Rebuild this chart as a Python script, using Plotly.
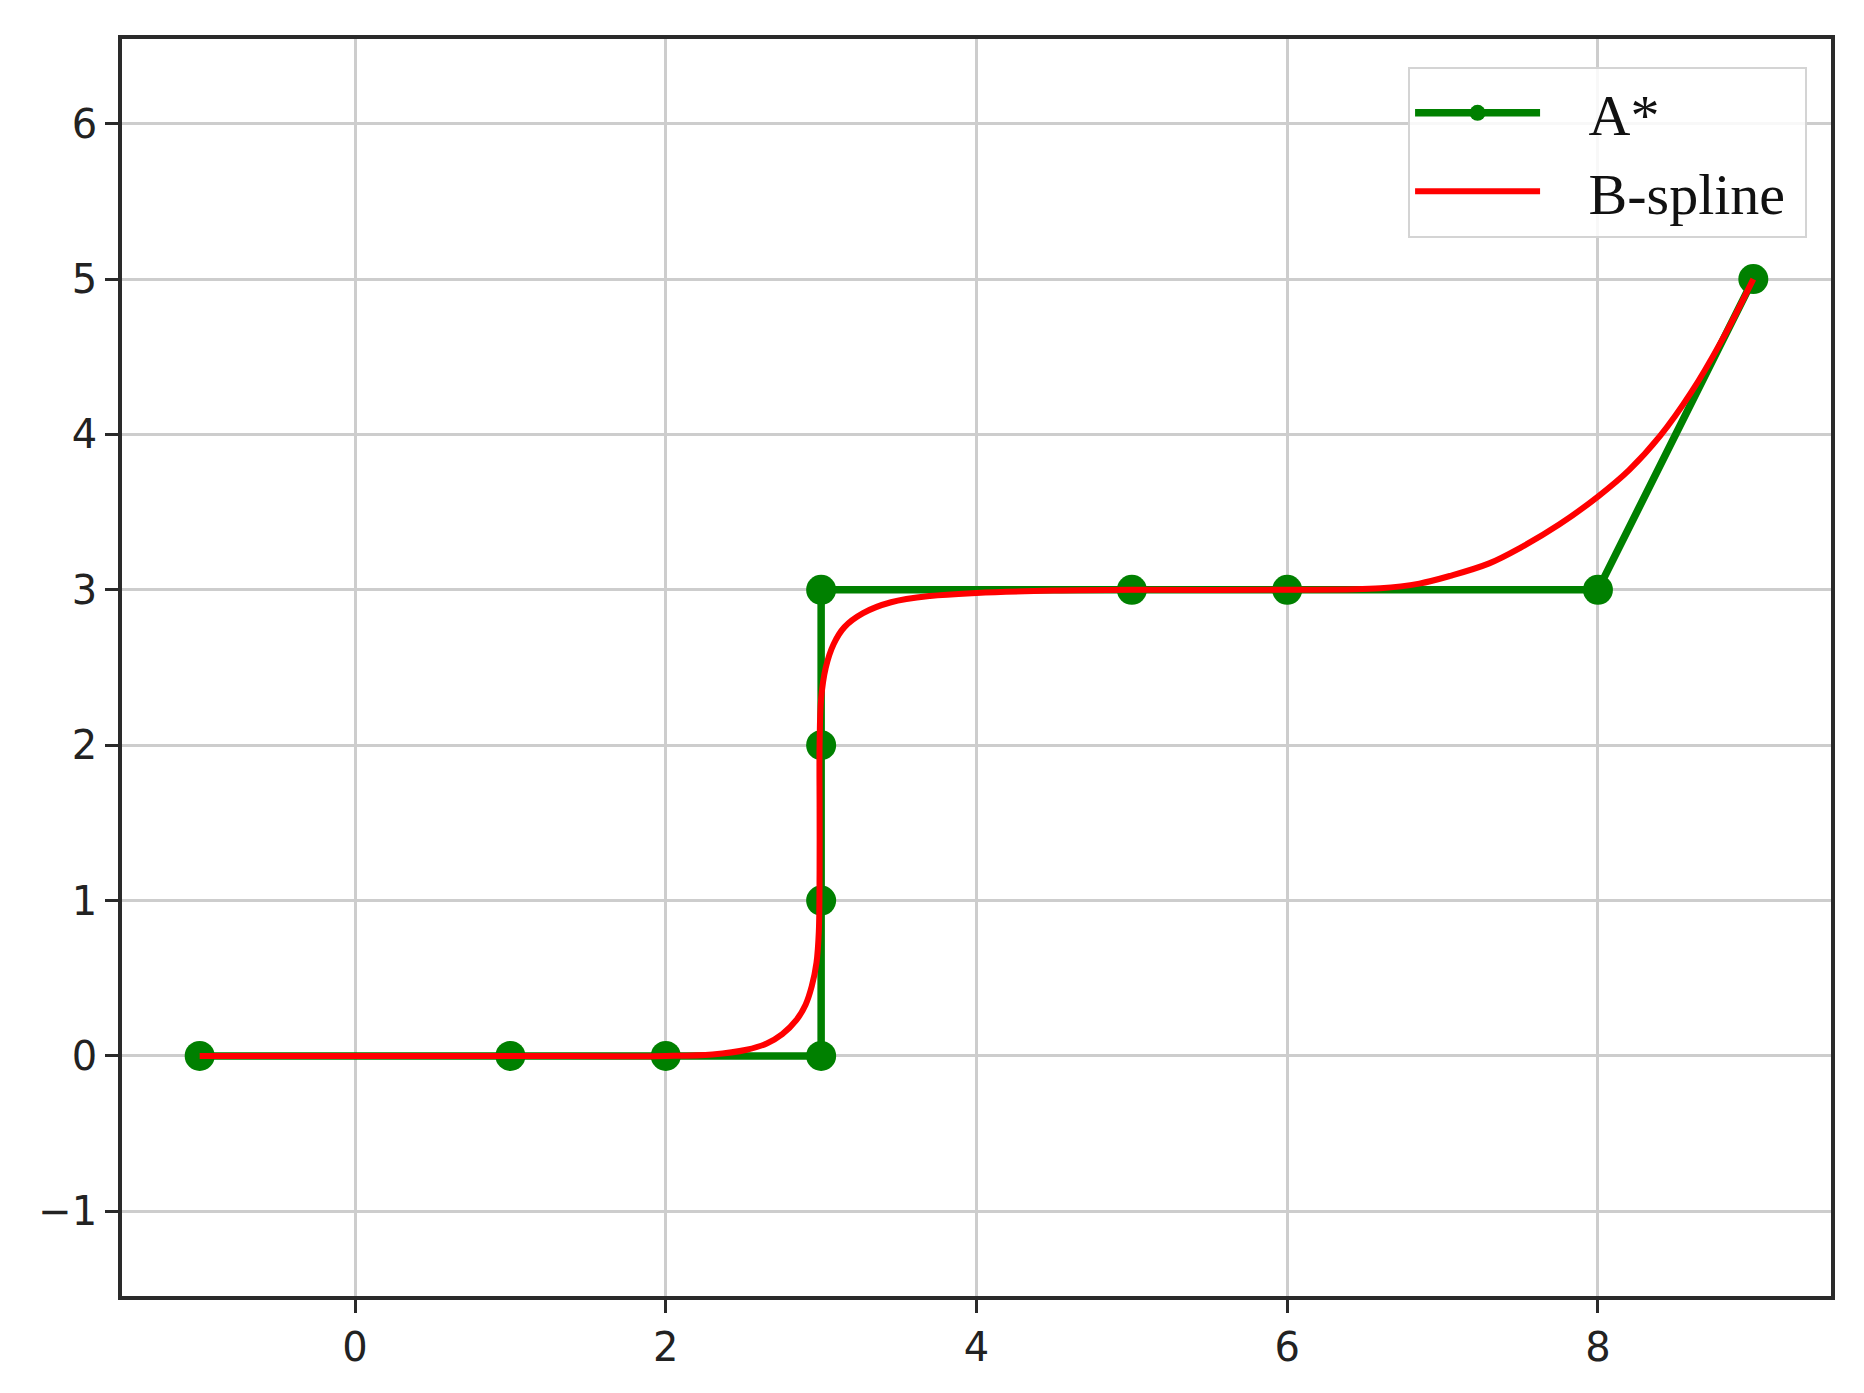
import plotly.graph_objects as go

# A* path nodes
astar_x = [-1, 1, 2, 3, 3, 3, 3, 5, 6, 8, 9]
astar_y = [0, 0, 0, 0, 1, 2, 3, 3, 3, 3, 5]

# smoothed path
bspline_x = [-1.0, 0.0, 1.0, 2.0, 2.3, 2.52, 2.65, 2.75, 2.84, 2.9, 2.94, 2.97, 2.985,
             2.99, 2.99, 2.99, 3.0, 3.03, 3.08, 3.15, 3.27, 3.45, 3.7, 4.0, 4.5, 5.0,
             6.0, 6.6, 6.85, 7.05, 7.3, 7.5, 7.75, 8.0, 8.2, 8.4, 8.6, 8.8, 9.0]
bspline_y = [0.0, 0.0, 0.0, 0.0, 0.01, 0.04, 0.08, 0.14, 0.23, 0.33, 0.45, 0.6, 0.8,
             1.2, 1.6, 2.0, 2.3, 2.5, 2.65, 2.76, 2.85, 2.92, 2.96, 2.98, 2.995, 3.0,
             3.0, 3.01, 3.04, 3.09, 3.17, 3.27, 3.42, 3.6, 3.77, 3.99, 4.27, 4.61, 5.0]

x_ticks = [0, 2, 4, 6, 8]
y_ticks = [-1, 0, 1, 2, 3, 4, 5, 6]

PAD = "\u00a0" * 3

fig = go.Figure()

fig.add_trace(
    go.Scatter(
        x=astar_x,
        y=astar_y,
        name=PAD + "A*",
        mode="lines+markers",
        line=dict(color="#008000", width=7.5),
        marker=dict(color="#008000", size=30),
    )
)
fig.add_trace(
    go.Scatter(
        x=bspline_x,
        y=bspline_y,
        name=PAD + "B-spline" + "\u00a0",
        mode="lines",
        line=dict(color="#ff0000", width=6, shape="spline", smoothing=1.0),
    )
)

axis_style = dict(
    showline=True,
    mirror=True,
    linecolor="#2a2a2a",
    linewidth=3.5,
    showgrid=True,
    gridcolor="#cdcdcd",
    gridwidth=2.5,
    zeroline=False,
    ticks="outside",
    ticklen=13,
    tickwidth=3,
    tickcolor="#2a2a2a",
    tickfont=dict(family="DejaVu Sans", size=40, color="#222222"),
)

fig.update_xaxes(range=[-1.5, 9.5], tickvals=x_ticks, **axis_style)
fig.update_yaxes(range=[-1.545, 6.545], tickvals=y_ticks, **axis_style)

fig.update_layout(
    width=1864,
    height=1393,
    margin=dict(l=114, r=41, t=31, b=105),
    plot_bgcolor="white",
    paper_bgcolor="white",
    legend=dict(
        x=0.986,
        y=0.978,
        xanchor="right",
        yanchor="top",
        bgcolor="rgba(255,255,255,0.85)",
        bordercolor="#d4d4d4",
        borderwidth=2,
        font=dict(family="Liberation Serif", size=58, color="#111111"),
        itemwidth=125,
    ),
)

fig.write_html("out.html")
